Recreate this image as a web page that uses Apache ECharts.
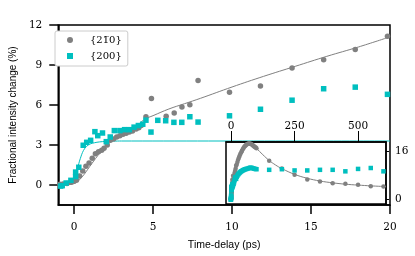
<!DOCTYPE html>
<html>
<head>
<meta charset="utf-8">
<script src="https://cdn.jsdelivr.net/npm/echarts@6/dist/echarts.min.js"></script>
<style>html,body{margin:0;padding:0;background:#fff;}#c{width:415px;height:256px;}</style>
</head>
<body>
<div id="c"></div>
<script>
// ---- data ----
var xTicks = [0, 5, 10, 15, 20];
var yTicks = [0, 3, 6, 9, 12];
var insetXTicks = [0, 250, 500];
var insetYTicks = [0, 16];
var seriesNames = ['{21\u03050}', '{200}'];

var gray210 = [[-0.9,0.05],[-0.7,0.07],[-0.45,0.12],[-0.2,0.2],[0.0,0.28],[0.15,0.35],[0.35,0.68],[0.55,1.05],[0.75,1.4],[0.95,1.65],[1.15,2.0],[1.35,2.35],[1.55,2.5],[1.75,2.6],[1.9,2.75],[2.1,3.0],[2.3,3.35],[2.5,3.45],[2.7,3.6],[2.9,3.7],[3.1,3.8],[3.3,3.88],[3.5,3.97],[3.7,4.05],[3.93,4.2],[4.1,4.3],[4.25,4.46],[4.55,5.12],[4.9,6.48],[5.83,5.15],[6.34,5.4],[6.83,5.85],[7.33,6.02],[7.85,7.84],[9.84,6.95],[11.8,7.43],[13.8,8.78],[15.8,9.39],[17.8,10.17],[19.84,11.16]];
var cyan200 = [[-0.85,-0.08],[-0.75,-0.05],[-0.5,0.15],[-0.2,0.35],[0.1,0.63],[0.1,0.97],[0.3,1.33],[0.58,2.98],[0.8,3.2],[1.05,3.35],[1.32,4.0],[1.5,3.7],[1.8,3.9],[2.04,3.25],[2.29,3.6],[2.55,4.08],[2.9,4.08],[3.2,4.15],[3.5,4.15],[3.8,4.34],[4.07,4.46],[4.35,4.56],[4.55,4.86],[4.87,3.97],[5.3,4.85],[5.8,4.82],[6.32,4.7],[6.82,4.7],[7.33,5.12],[7.85,4.72],[9.84,5.19],[11.8,5.68],[13.8,6.36],[15.8,7.22],[17.8,7.34],[19.84,6.8]];
var grayFit = [[-1,0],[-0.5,0.02],[0,0.1],[0.5,0.6],[1,1.4],[1.5,2.2],[2,2.9],[2.5,3.4],[3,3.85],[4,4.5],[4.5,4.95],[5,5.2],[6,5.7],[7,6.1],[8,6.5],[10,7.35],[12,8.15],[14,8.9],[16,9.65],[18,10.35],[19.84,11.05]];
var cyanFit = [[-1,0.02],[-0.5,0.08],[-0.2,0.25],[0,0.55],[0.2,1.2],[0.4,2.0],[0.6,2.6],[0.8,2.9],[1.0,3.07],[1.3,3.17],[1.6,3.23],[2.0,3.27],[2.5,3.29],[3,3.3],[20,3.3]];

var grayLate = [[22,11.6],[25,12.4],[28,13.2],[31,13.9],[34,14.5],[37,15.1],[40,15.6],[43,16.1],[46,16.6],[49,17.0],[52,17.4],[55,17.7],[58,17.95],[61,18.15],[64,18.3],[67,18.45],[70,18.5],[73,18.5],[76,18.4],[79,18.3],[82,18.15],[85,17.95],[88,17.75],[91,17.55],[94,17.35],[97,17.15],[100,16.9],[150,12.8],[200,10.2],[250,8.15],[300,6.6],[350,5.95],[400,5.4],[450,5.17],[500,4.85],[550,4.4],[600,4.3]];
var cyanLate = [[22,7.5],[25,7.9],[28,8.3],[31,8.6],[34,8.9],[37,9.1],[40,9.3],[44,9.5],[48,9.7],[52,9.85],[56,10.0],[60,10.1],[65,10.2],[70,10.35],[75,10.5],[80,10.5],[85,10.3],[90,10.2],[95,10.1],[100,10.0],[150,9.8],[200,10.0],[250,9.6],[300,9.6],[350,9.8],[400,9.8],[450,9.3],[500,10.1],[550,10.4],[600,9.3]];
var grayLateFit = [[0,0.2],[5,3],[10,6],[20,10.8],[30,13.6],[40,15.6],[50,17],[60,17.9],[70,18.3],[80,18.2],[90,17.7],[100,16.9],[125,14.8],[150,12.9],[175,11.4],[200,10.2],[250,8.3],[300,7.0],[350,6.1],[400,5.5],[450,5.05],[500,4.75],[550,4.5],[610,4.25]];

var GRAY = '#808080', CYAN = '#00bfbf';
var serif = 'DejaVu Serif', sans = 'Liberation Sans';
var SQUARE = 'path://M0,0L10,0L10,10L0,10Z';

var chart = echarts.init(document.getElementById('c'), null, {renderer: 'canvas'});
chart.setOption({
  animation: false,
  backgroundColor: '#fff',
  grid: [
    {left: 49, top: 25, right: 25, bottom: 47, show: true, borderColor: '#000', borderWidth: 1.5, backgroundColor: 'transparent'},
    {left: 226, top: 142, right: 29, bottom: 52, show: true, borderColor: '#000', borderWidth: 1.5, backgroundColor: '#fff', z: 10}
  ],
  legend: {
    left: 55, top: 31, orient: 'vertical',
    padding: [3, 6, 4, 12], itemGap: 4, itemWidth: 6, itemHeight: 6,
    borderColor: '#cccccc', borderWidth: 1, borderRadius: 2, backgroundColor: '#fff',
    textStyle: {fontFamily: serif, fontSize: 10, color: '#000', lineHeight: 12, padding: [0, 0, 0, 12]},
    data: [{name: seriesNames[0], icon: 'circle'}, {name: seriesNames[1], icon: SQUARE}]
  },
  xAxis: [
    {type: 'value', gridIndex: 0, min: -1, max: 20, position: 'bottom',
     axisLine: {show: true, onZero: false, lineStyle: {color: '#000', width: 1.5}},
     axisTick: {show: true, inside: false, length: 9, lineStyle: {color: '#000', width: 1.5}, customValues: xTicks},
     axisLabel: {margin: 17, fontFamily: serif, fontSize: 10.5, color: '#000', customValues: xTicks},
     splitLine: {show: false},
     name: 'Time-delay (ps)', nameLocation: 'middle', nameGap: 35,
     nameTextStyle: {fontFamily: sans, fontSize: 10.5, color: '#000'}},
    {type: 'value', gridIndex: 1, min: -20, max: 610, position: 'top', z: 11,
     axisLine: {show: true, onZero: false, lineStyle: {color: '#000', width: 1.5}},
     axisTick: {show: true, inside: false, length: 11, lineStyle: {color: '#000', width: 1}, customValues: insetXTicks},
     axisLabel: {margin: 10, fontFamily: serif, fontSize: 10.5, color: '#000', customValues: insetXTicks},
     splitLine: {show: false}}
  ],
  yAxis: [
    {type: 'value', gridIndex: 0, min: -1.5, max: 12,
     axisLine: {show: true, onZero: false, lineStyle: {color: '#000', width: 1.5}},
     axisTick: {show: true, inside: false, length: 9, lineStyle: {color: '#000', width: 1.5}, customValues: yTicks},
     axisLabel: {margin: 16, fontFamily: serif, fontSize: 10.5, color: '#000', customValues: yTicks},
     splitLine: {show: false},
     name: 'Fractional intensity change (%)', nameLocation: 'middle', nameGap: 39,
     nameTextStyle: {fontFamily: sans, fontSize: 10, color: '#000'}},
    {type: 'value', gridIndex: 1, min: -1.5, max: 19, position: 'right', z: 11,
     axisLine: {show: true, onZero: false, lineStyle: {color: '#000', width: 1.5}},
     axisTick: {show: true, inside: false, length: 3, lineStyle: {color: '#000', width: 1}, customValues: insetYTicks},
     axisLabel: {margin: 9, fontFamily: serif, fontSize: 10.5, color: '#000', customValues: insetYTicks},
     splitLine: {show: false}}
  ],
  series: [
    {type: 'line', xAxisIndex: 0, yAxisIndex: 0, data: grayFit, smooth: 0.4, showSymbol: false, symbol: 'none',
     lineStyle: {color: GRAY, width: 1}, z: 1, silent: true},
    {type: 'line', xAxisIndex: 0, yAxisIndex: 0, data: cyanFit, smooth: 0.4, showSymbol: false, symbol: 'none',
     lineStyle: {color: CYAN, width: 1}, z: 1, silent: true},
    {name: seriesNames[0], type: 'scatter', xAxisIndex: 0, yAxisIndex: 0, data: gray210,
     symbol: 'circle', symbolSize: 5.5, itemStyle: {color: GRAY, opacity: 1}, z: 2},
    {name: seriesNames[1], type: 'scatter', xAxisIndex: 0, yAxisIndex: 0, data: cyan200,
     symbol: 'rect', symbolSize: 5.5, itemStyle: {color: CYAN, opacity: 1}, z: 3},
    {type: 'line', xAxisIndex: 1, yAxisIndex: 1, data: grayLateFit, smooth: 0.4, showSymbol: false, symbol: 'none',
     lineStyle: {color: GRAY, width: 1}, z: 12, silent: true},
    {type: 'scatter', xAxisIndex: 1, yAxisIndex: 1, data: gray210.concat(grayLate),
     symbol: 'circle', symbolSize: 4.5, itemStyle: {color: GRAY, opacity: 1}, z: 13},
    {type: 'scatter', xAxisIndex: 1, yAxisIndex: 1, data: cyan200.concat(cyanLate),
     symbol: 'rect', symbolSize: 4.5, itemStyle: {color: CYAN, opacity: 1}, z: 14}
  ]
});
</script>
</body>
</html>
